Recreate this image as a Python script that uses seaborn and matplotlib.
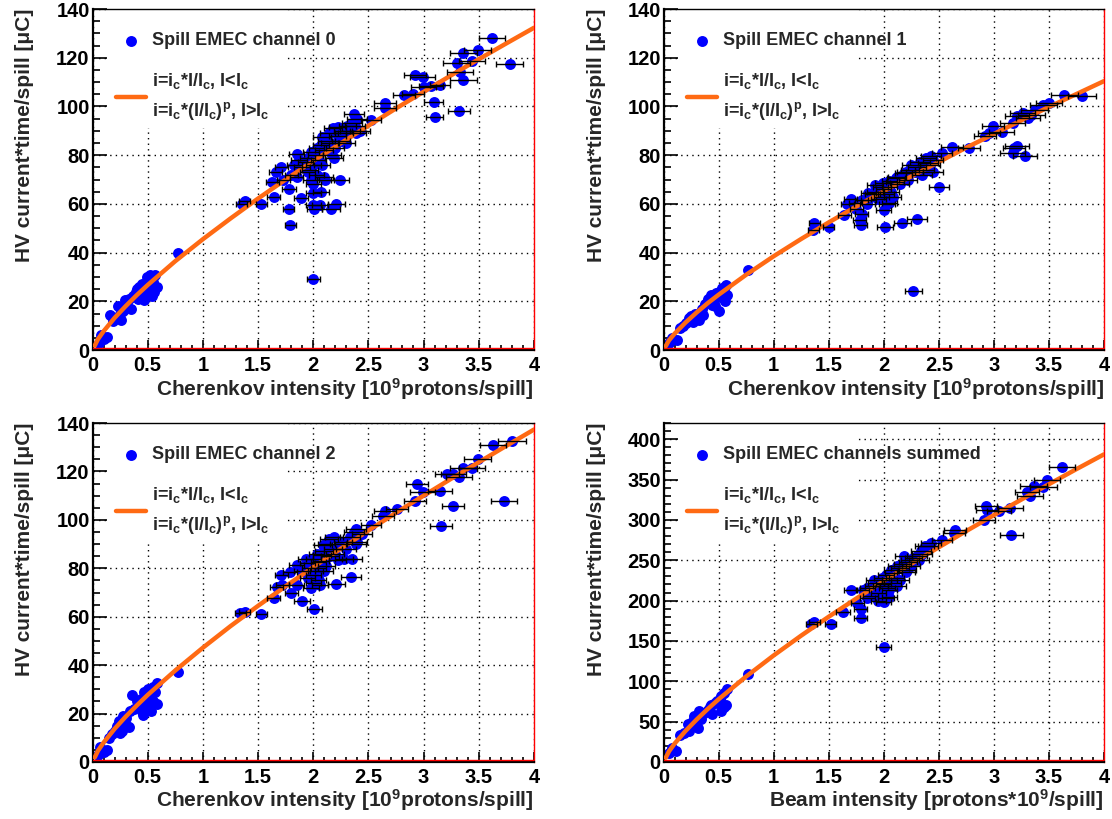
import matplotlib
matplotlib.use('Agg')
import matplotlib.pyplot as plt
import matplotlib.ticker as mticker
from matplotlib.patches import Rectangle
from matplotlib.transforms import ScaledTranslation
import seaborn as sns

# fit curve sample points
fit_x = [0.02, 0.05, 0.1, 0.2, 0.3, 0.4, 0.5, 0.75, 1.0, 1.25, 1.5, 1.75, 2.0,
         2.25, 2.5, 2.75, 3.0, 3.25, 3.5, 3.75, 4.0]

# channel 0
ch0_low_x = [0.06, 0.08, 0.10, 0.13, 0.16, 0.19, 0.21, 0.23, 0.25, 0.26,
             0.28, 0.29, 0.31, 0.33, 0.35, 0.37, 0.39, 0.40, 0.41, 0.42,
             0.44, 0.45, 0.46, 0.47, 0.48, 0.49, 0.50, 0.51, 0.52, 0.53,
             0.54, 0.55, 0.56, 0.57, 0.58, 0.77]
ch0_low_y = [3, 6, 4.5, 5.5, 14.5, 12, 13, 18, 15, 12.5,
             16, 20.5, 18, 21, 17, 22, 24, 25, 21, 26,
             23, 27, 22, 20.5, 25, 30, 27, 23, 31, 26,
             22, 28, 24, 31, 26, 40]
ch0_high_x = [1.35, 1.38, 1.53, 1.64, 1.63, 1.66, 1.71, 1.73, 1.78, 1.78,
              1.79, 1.80, 1.83, 1.85, 1.85, 1.87, 1.89, 1.90, 1.93, 1.95,
              1.95, 1.97, 1.98, 1.98, 2.00, 2.00, 2.00, 2.01, 2.00, 2.00,
              2.02, 2.03, 2.03, 2.05, 2.06, 2.07, 2.07, 2.08, 2.08, 2.10,
              2.10, 2.11, 2.12, 2.14, 2.15, 2.16, 2.17, 2.18, 2.19, 2.20,
              2.21, 2.22, 2.22, 2.24, 2.25, 2.27, 2.28, 2.30, 2.31, 2.33,
              2.35, 2.37, 2.38, 2.39, 2.40, 2.42, 2.52, 2.65, 2.65, 2.82,
              2.90, 2.92, 2.99, 3.00, 3.07, 3.09, 3.10, 3.15, 3.30, 3.32,
              3.33, 3.36, 3.36, 3.44, 3.49, 3.62, 3.78]
ch0_high_y = [60, 61, 60, 63, 69, 73, 75, 70, 66, 58,
              51.5, 72, 76, 80.5, 71, 78, 62.5, 75, 77, 73,
              79, 74, 81.5, 70, 68, 64.5, 59.5, 58, 29, 76,
              80, 83, 72, 78, 59.5, 65, 84, 87.5, 76, 71,
              82, 70, 86, 89, 85, 58, 80, 91, 79, 83,
              60, 91.5, 88, 70, 86, 90, 89, 85, 92, 90,
              93, 97, 92, 89, 95, 90, 94.5, 101.5, 99.5, 104.5,
              105, 113, 112, 108, 108.5, 102, 95.8, 109, 118, 98,
              114, 111, 122, 118.5, 123, 128, 117.5]
ch0_high_xerr = [0.05, 0.05, 0.05, 0.06, 0.06, 0.06, 0.06, 0.06, 0.06, 0.05,
                 0.05, 0.06, 0.07, 0.07, 0.06, 0.07, 0.06, 0.07, 0.07, 0.07,
                 0.07, 0.07, 0.07, 0.07, 0.07, 0.07, 0.07, 0.07, 0.06, 0.07,
                 0.07, 0.07, 0.07, 0.07, 0.07, 0.07, 0.07, 0.08, 0.07, 0.08,
                 0.08, 0.08, 0.08, 0.08, 0.08, 0.08, 0.08, 0.08, 0.08, 0.08,
                 0.08, 0.08, 0.08, 0.08, 0.08, 0.08, 0.08, 0.08, 0.08, 0.09,
                 0.09, 0.09, 0.09, 0.09, 0.09, 0.09, 0.09, 0.10, 0.10, 0.10,
                 0.10, 0.10, 0.11, 0.11, 0.11, 0.09, 0.08, 0.09, 0.12, 0.10,
                 0.12, 0.12, 0.12, 0.12, 0.12, 0.12, 0.12]
ch0_fit = [1.8, 4.5, 7.7, 13.2, 18.0, 22.5, 26.7, 36.5, 45.5, 54.0, 62.2, 70.0,
           77.6, 84.9, 92.1, 99.2, 106.0, 112.8, 119.4, 125.9, 132.3]

# channel 1
ch1_low_x = [0.05, 0.08, 0.12, 0.15, 0.18, 0.20, 0.23, 0.25, 0.27, 0.29,
             0.30, 0.32, 0.35, 0.36, 0.38, 0.40, 0.42, 0.43, 0.45, 0.46,
             0.47, 0.48, 0.50, 0.50, 0.52, 0.53, 0.55, 0.55, 0.57, 0.58,
             0.56, 0.44, 0.77]
ch1_low_y = [3, 5, 4, 9, 10, 11, 13, 14, 11.5, 15,
             13, 12.5, 17, 14.5, 19, 21, 19.5, 22.5, 22, 20,
             18, 23.5, 16, 24, 22, 25.5, 21, 25, 26.5, 22.5,
             20, 18.5, 33]
ch1_high_x = [1.36, 1.37, 1.50, 1.64, 1.67, 1.70, 1.74, 1.75, 1.78, 1.79,
              1.80, 1.80, 1.85, 1.86, 1.86, 1.90, 1.92, 1.92, 1.95, 1.97,
              1.98, 1.99, 2.00, 2.00, 2.01, 2.02, 2.03, 2.05, 2.05, 2.05,
              2.07, 2.08, 2.10, 2.11, 2.12, 2.15, 2.17, 2.18, 2.20, 2.22,
              2.24, 2.25, 2.27, 2.28, 2.30, 2.30, 2.33, 2.35, 2.37, 2.38,
              2.40, 2.42, 2.43, 2.45, 2.45, 2.50, 2.53, 2.62, 2.77, 2.92,
              2.96, 2.99, 3.07, 3.17, 3.17, 3.18, 3.21, 3.21, 3.26, 3.28,
              3.31, 3.34, 3.37, 3.45, 3.50, 3.64, 3.80]
ch1_high_y = [49.3, 52, 50.7, 55.5, 60, 62, 60.3, 58, 53.4, 51.4,
              56, 61.6, 60, 61.6, 64.4, 64, 65, 67.8, 62, 67,
              63, 68.5, 57.5, 66, 50.7, 64, 60, 60.3, 67, 69.2,
              65, 63, 69, 70.5, 71, 68, 52, 72.6, 73, 70,
              74, 76, 24.4, 73, 53.7, 75.3, 77, 72, 74, 79,
              76.7, 76, 79.5, 78, 73, 67.1, 80.8, 83.3, 82.9, 87.7,
              89, 92.1, 89.7, 93.2, 80.8, 82.9, 83.6, 95.9, 97.3, 79.7,
              95.2, 96.6, 98.6, 100.7, 101.4, 104.8, 104.1]
ch1_high_xerr = [0.05, 0.05, 0.05, 0.06, 0.06, 0.06, 0.06, 0.06, 0.06, 0.06,
                 0.06, 0.06, 0.07, 0.07, 0.07, 0.07, 0.07, 0.07, 0.07, 0.07,
                 0.07, 0.07, 0.07, 0.07, 0.07, 0.07, 0.07, 0.07, 0.07, 0.07,
                 0.07, 0.08, 0.08, 0.08, 0.08, 0.08, 0.08, 0.08, 0.08, 0.08,
                 0.08, 0.08, 0.08, 0.08, 0.09, 0.08, 0.09, 0.09, 0.09, 0.09,
                 0.09, 0.09, 0.09, 0.09, 0.09, 0.09, 0.09, 0.10, 0.10, 0.10,
                 0.10, 0.10, 0.11, 0.11, 0.11, 0.10, 0.11, 0.11, 0.11, 0.11,
                 0.11, 0.12, 0.12, 0.12, 0.12, 0.12, 0.13]
ch1_fit = [1.6, 4.0, 6.7, 11.3, 15.4, 19.2, 22.7, 30.9, 38.5, 45.6, 52.4, 58.9,
           65.2, 71.3, 77.2, 83.1, 88.7, 94.3, 99.8, 105.1, 110.4]

# channel 2
ch2_low_x = [0.05, 0.07, 0.09, 0.10, 0.13, 0.15, 0.18, 0.20, 0.22, 0.24,
             0.25, 0.27, 0.28, 0.30, 0.31, 0.33, 0.34, 0.36, 0.38, 0.40,
             0.42, 0.44, 0.45, 0.46, 0.47, 0.49, 0.50, 0.51, 0.52, 0.53,
             0.55, 0.55, 0.57, 0.58, 0.58, 0.77]
ch2_low_y = [3, 6, 4.4, 4, 5, 10, 11.5, 13, 15, 17,
             12, 13, 19, 18, 15, 14.6, 21, 27.7, 22, 25,
             23, 26, 21, 19.5, 29, 24, 30, 22, 27, 21,
             31, 25, 29, 32.8, 24, 37]
ch2_high_x = [1.34, 1.38, 1.53, 1.64, 1.67, 1.71, 1.72, 1.79, 1.80, 1.85,
              1.85, 1.90, 1.90, 1.93, 1.95, 1.95, 1.97, 1.98, 2.00, 2.00,
              2.00, 2.01, 2.02, 2.03, 2.05, 2.05, 2.05, 2.06, 2.07, 2.08,
              2.09, 2.10, 2.10, 2.12, 2.12, 2.14, 2.15, 2.18, 2.19, 2.20,
              2.21, 2.22, 2.23, 2.27, 2.28, 2.30, 2.33, 2.34, 2.35, 2.37,
              2.39, 2.39, 2.40, 2.44, 2.52, 2.63, 2.65, 2.76, 2.92, 2.94,
              2.99, 3.15, 3.16, 3.21, 3.27, 3.27, 3.32, 3.36, 3.44, 3.49,
              3.63, 3.73, 3.80]
ch2_high_y = [61.5, 61.9, 61.2, 67.6, 72.4, 77.2, 73.1, 78.6, 69.7, 73.1,
              81.3, 66.3, 79, 84, 75.8, 82, 80, 72, 77.2, 84,
              74, 63.2, 79, 86, 82.7, 80, 75, 73.1, 83, 85.4,
              89.5, 87, 79, 81, 90, 92.2, 85, 88, 92.9, 86,
              73.4, 83.3, 90, 91, 84, 88, 93, 76.5, 84, 95,
              90.2, 96.3, 91, 94.3, 97.7, 101.8, 103.8, 104.5, 107.9, 115,
              111.6, 112, 97.4, 118.9, 118.9, 105.9, 117.5, 121.6, 121.6, 125,
              131.1, 107.7, 132.5]
ch2_high_xerr = [0.05, 0.05, 0.05, 0.06, 0.06, 0.06, 0.06, 0.06, 0.06, 0.07,
                 0.07, 0.07, 0.07, 0.07, 0.07, 0.07, 0.07, 0.07, 0.07, 0.07,
                 0.07, 0.07, 0.07, 0.07, 0.07, 0.07, 0.07, 0.07, 0.07, 0.08,
                 0.08, 0.08, 0.08, 0.08, 0.08, 0.08, 0.08, 0.08, 0.08, 0.08,
                 0.08, 0.08, 0.08, 0.08, 0.08, 0.09, 0.09, 0.09, 0.09, 0.09,
                 0.09, 0.09, 0.09, 0.09, 0.09, 0.10, 0.10, 0.10, 0.10, 0.10,
                 0.11, 0.11, 0.10, 0.11, 0.11, 0.10, 0.12, 0.12, 0.12, 0.12,
                 0.12, 0.12, 0.13]
ch2_fit = [1.9, 4.7, 8.0, 13.7, 18.7, 23.3, 27.7, 37.8, 47.2, 56.1, 64.5, 72.6,
           80.5, 88.1, 95.6, 102.9, 110.0, 117.0, 123.8, 130.6, 137.3]

# channels summed
sum_low_x = [0.05, 0.08, 0.11, 0.15, 0.19, 0.22, 0.23, 0.26, 0.28, 0.28,
             0.31, 0.32, 0.34, 0.37, 0.40, 0.42, 0.43, 0.44, 0.47, 0.49,
             0.51, 0.52, 0.52, 0.55, 0.55, 0.57, 0.58, 0.77]
sum_low_y = [11.5, 17.7, 13.6, 34, 36, 46.6, 38, 50, 57, 52.8,
             42.5, 63, 53, 61, 65, 68, 71, 59, 73.4, 75,
             77.5, 63, 82, 86, 68, 71, 90, 109]
sum_high_x = [1.34, 1.37, 1.52, 1.63, 1.70, 1.76, 1.79, 1.79, 1.81, 1.85,
              1.85, 1.88, 1.90, 1.91, 1.93, 1.95, 1.95, 1.97, 1.98, 2.00,
              2.00, 2.00, 2.02, 2.02, 2.03, 2.05, 2.05, 2.05, 2.07, 2.08,
              2.09, 2.10, 2.12, 2.12, 2.15, 2.15, 2.17, 2.18, 2.20, 2.21,
              2.22, 2.24, 2.25, 2.27, 2.30, 2.32, 2.34, 2.35, 2.37, 2.40,
              2.43, 2.53, 2.64, 2.65, 2.91, 2.93, 2.94, 3.05, 3.15, 3.16,
              3.30, 3.33, 3.36, 3.45, 3.48, 3.62]
sum_high_y = [171.5, 173.6, 171.5, 186.4, 212.8, 197, 189, 178.6, 213.6, 215,
              203, 205.4, 218, 226, 222, 210, 200, 217.7, 228, 220,
              198, 142.7, 203.3, 232, 215, 225, 213.6, 205, 238, 222,
              234, 228, 242.5, 218, 226, 240, 245, 254.8, 235, 238.4,
              248, 250.7, 243, 252.8, 255, 250, 261, 258, 267.2, 268,
              271.3, 275.5, 283.7, 287.8, 300.2, 316.7, 312.6, 310.5, 314.6, 280.8,
              334, 329, 342.3, 340.6, 349.7, 365]
sum_high_xerr = [0.05, 0.05, 0.05, 0.06, 0.06, 0.06, 0.06, 0.06, 0.06, 0.07,
                 0.07, 0.07, 0.07, 0.07, 0.07, 0.07, 0.07, 0.07, 0.07, 0.07,
                 0.07, 0.07, 0.07, 0.07, 0.07, 0.07, 0.07, 0.07, 0.07, 0.08,
                 0.08, 0.08, 0.08, 0.08, 0.08, 0.08, 0.08, 0.08, 0.08, 0.08,
                 0.08, 0.08, 0.08, 0.08, 0.09, 0.09, 0.09, 0.09, 0.09, 0.09,
                 0.09, 0.09, 0.10, 0.10, 0.10, 0.10, 0.10, 0.11, 0.11, 0.10,
                 0.11, 0.12, 0.12, 0.12, 0.12, 0.12]
sum_fit = [5.3, 13.3, 22.7, 38.5, 52.5, 65.5, 77.7, 105.9, 132.0, 156.6, 180.0,
           202.5, 224.3, 245.5, 266.1, 286.2, 305.9, 325.2, 344.2, 362.9, 381.2]

fit_label = (r"i=i$_c$*I/I$_c$, I<I$_c$" + "\n" +
             r"i=i$_c$*(I/I$_c$)$^p$, I>I$_c$")
cher_label = r"Cherenkov intensity [10$^9$protons/spill]"
beam_label = r"Beam intensity [protons*10$^9$/spill]"
y_label = "HV current*time/spill [\u03bcC]"

sns.set_style('ticks')
plt.rcParams['font.family'] = ['Liberation Sans', 'DejaVu Sans']
plt.rcParams['font.weight'] = 'bold'
plt.rcParams['mathtext.fontset'] = 'custom'
plt.rcParams['mathtext.bf'] = 'Liberation Sans:bold'
plt.rcParams['mathtext.rm'] = 'Liberation Sans:bold'
plt.rcParams['mathtext.it'] = 'Liberation Sans:bold'
plt.rcParams['mathtext.default'] = 'bf'


def draw_panel(ax, low_x, low_y, high_x, high_y, high_xerr, fit_y, name,
               ymax, ystep, ysub, xlabel):
    ax.set_xlim(0, 4)
    ax.set_ylim(0, ymax)
    ax.set_axisbelow(True)
    ax.grid(True, which='major', color='black', linestyle=(0, (1, 3)), linewidth=1.0)
    # white legend box hiding the grid
    ax.add_patch(Rectangle((0.034, 0.65), 0.404, 0.35, transform=ax.transAxes,
                           facecolor='white', edgecolor='none', zorder=1))

    sns.scatterplot(x=low_x + high_x, y=low_y + high_y, ax=ax, color='#0000ff',
                    s=62, linewidth=0, zorder=2, label=name)
    ax.errorbar(high_x, high_y, xerr=high_xerr, fmt='none', ecolor='black',
                elinewidth=1.0, capsize=2.5, capthick=1.0, zorder=4)
    sns.lineplot(x=fit_x, y=fit_y, ax=ax, color='#ff6a13', linewidth=3.2,
                 sort=False, estimator=None, zorder=3, label=fit_label,
                 solid_capstyle='round')

    ax.xaxis.set_major_locator(mticker.MultipleLocator(0.5))
    ax.xaxis.set_minor_locator(mticker.MultipleLocator(0.1))
    ax.yaxis.set_major_locator(mticker.MultipleLocator(ystep))
    ax.yaxis.set_minor_locator(mticker.MultipleLocator(ysub))
    ax.xaxis.set_major_formatter(mticker.FormatStrFormatter('%g'))
    ax.tick_params(axis='both', which='both', direction='in', top=False,
                   right=False, width=1.2, labelsize=14.5, colors='black')
    ax.tick_params(axis='y', which='major', length=10, pad=2)
    ax.tick_params(axis='y', which='minor', length=5)
    ax.tick_params(axis='x', which='major', length=7.5, pad=4)
    ax.tick_params(axis='x', which='minor', length=3.7)

    for side in ['left', 'bottom']:
        ax.spines[side].set_linewidth(1.6)
        ax.spines[side].set_color('black')
    ax.spines['top'].set_linewidth(1.0)
    ax.spines['top'].set_color('black')
    ax.spines['right'].set_linewidth(1.0)
    ax.spines['right'].set_color('red')
    # red frame edge just above the x axis
    shift = ScaledTranslation(0, 1.5 / 72, ax.figure.dpi_scale_trans)
    ax.plot([0, 1], [0, 0], transform=ax.get_yaxis_transform() + shift,
            color='red', lw=1.0, zorder=2.6)

    ax.set_xlabel(xlabel, fontsize=15, fontweight='bold', ha='right', va='center')
    ax.xaxis.set_label_coords(1.0, -0.113)
    ax.set_ylabel(y_label, fontsize=15, fontweight='bold', ha='right', va='center')
    ax.yaxis.set_label_coords(-0.153, 1.0)

    leg = ax.legend(loc='upper left', bbox_to_anchor=(0, 1), borderaxespad=0,
                    frameon=False, prop={'size': 13, 'weight': 'bold'},
                    handlelength=1.66, handletextpad=0.35, labelspacing=1.2,
                    borderpad=1.3)
    leg.get_texts()[1].set_linespacing(1.55)


fig = plt.figure(figsize=(11.12, 8.19), dpi=100)
ax0 = fig.add_axes([0.0832, 0.5726, 0.397, 0.4164])
ax1 = fig.add_axes([0.5967, 0.5726, 0.3961, 0.4164])
ax2 = fig.add_axes([0.0832, 0.0696, 0.397, 0.4139])
ax3 = fig.add_axes([0.5967, 0.0696, 0.3961, 0.4139])

draw_panel(ax0, ch0_low_x, ch0_low_y, ch0_high_x, ch0_high_y, ch0_high_xerr,
           ch0_fit, 'Spill EMEC channel 0', 140, 20, 5, cher_label)
draw_panel(ax1, ch1_low_x, ch1_low_y, ch1_high_x, ch1_high_y, ch1_high_xerr,
           ch1_fit, 'Spill EMEC channel 1', 140, 20, 5, cher_label)
draw_panel(ax2, ch2_low_x, ch2_low_y, ch2_high_x, ch2_high_y, ch2_high_xerr,
           ch2_fit, 'Spill EMEC channel 2', 140, 20, 5, cher_label)
draw_panel(ax3, sum_low_x, sum_low_y, sum_high_x, sum_high_y, sum_high_xerr,
           sum_fit, 'Spill EMEC channels summed', 420, 50, 10, beam_label)

fig.savefig('out.png', dpi=100)
